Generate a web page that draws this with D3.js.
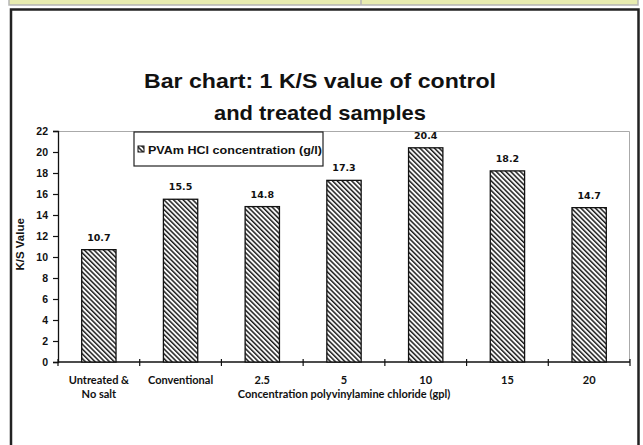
<!DOCTYPE html>
<html>
<head>
<meta charset="utf-8">
<script src="https://cdn.jsdelivr.net/npm/d3@7"></script>
<style>
  body { margin: 0; background: #fff; }
  svg { display: block; }
</style>
</head>
<body>
<div id="chart"></div>
<script>
// chart data
var categories = ["Untreated & No salt", "Conventional", "2.5", "5", "10", "15", "20"];
var values = [10.7, 15.5, 14.8, 17.3, 20.4, 18.2, 14.7];
var yTicks = [0, 2, 4, 6, 8, 10, 12, 14, 16, 18, 20, 22];
var seriesName = "PVAm HCl concentration (g/l)";

var W = 643, H = 445;
var margin = {top: 131, right: 13, bottom: 83, left: 58},
  width = W - margin.left - margin.right,
  height = H - margin.top - margin.bottom;

var svg = d3.select("#chart").append("svg")
  .attr("width", W)
  .attr("height", H);

// hatch pattern for bars
var defs = svg.append("defs");
var pat = defs.append("pattern")
  .attr("id", "hatch")
  .attr("patternUnits", "userSpaceOnUse")
  .attr("width", 3.4)
  .attr("height", 3.4)
  .attr("patternTransform", "rotate(45)");
pat.append("rect").attr("width", 3.4).attr("height", 3.4).attr("fill", "#fff");
pat.append("line")
  .attr("x1", 0).attr("x2", 3.4)
  .attr("y1", 1).attr("y2", 1)
  .attr("stroke", "#1a1a1a")
  .attr("stroke-width", 1.5);

// page decoration: yellow strip at top and frame
svg.append("rect")
  .attr("x", 9).attr("y", -2)
  .attr("width", 629).attr("height", 7)
  .attr("fill", "#e8ecb0")
  .attr("stroke", "#b5b5b5")
  .attr("stroke-width", 1.5);
svg.append("line")
  .attr("x1", 361).attr("x2", 361)
  .attr("y1", 0).attr("y2", 5)
  .attr("stroke", "#b5b5b5")
  .attr("stroke-width", 1.5);
svg.append("rect")
  .attr("x", 11).attr("y", 9.5)
  .attr("width", 627.5).attr("height", 450)
  .attr("fill", "none")
  .attr("stroke", "#222")
  .attr("stroke-width", 2.5);

// title (source text is a bit stretched sideways)
var title = svg.append("text")
  .attr("text-anchor", "middle")
  .attr("font-family", "Liberation Sans, Arial, sans-serif")
  .attr("font-weight", "bold")
  .attr("font-size", "21px")
  .attr("fill", "#111");
title.append("tspan").attr("x", 320).attr("y", 88)
  .attr("textLength", 352).attr("lengthAdjust", "spacingAndGlyphs")
  .text("Bar chart: 1 K/S value of control");
title.append("tspan").attr("x", 320).attr("y", 120)
  .attr("textLength", 212).attr("lengthAdjust", "spacingAndGlyphs")
  .text("and treated samples");

var g = svg.append("g")
  .attr("transform", "translate(" + margin.left + "," + margin.top + ")");

var x = d3.scaleBand()
  .domain(categories)
  .range([0, width])
  .paddingInner(0.58)
  .paddingOuter(0.29);

var xb = d3.scaleBand().domain(categories).range([0, width]);

var y = d3.scaleLinear()
  .domain([0, 22])
  .range([height, 0]);

// plot area border (top and right in light gray)
g.append("path")
  .attr("d", "M0,0.5H" + (width - 0.5) + "V" + height)
  .attr("fill", "none")
  .attr("stroke", "#aaa")
  .attr("stroke-width", 1);

// y axis
var yAxis = g.append("g")
  .call(d3.axisLeft(y).tickValues(yTicks).tickSize(5).tickPadding(5).tickFormat(d3.format("d")));
yAxis.select(".domain").attr("stroke", "#111").attr("stroke-width", 1.3);
yAxis.selectAll(".tick line").attr("stroke", "#111").attr("stroke-width", 1.2);
yAxis.selectAll("text")
  .attr("font-family", "Liberation Sans, Arial, sans-serif")
  .attr("font-weight", "bold")
  .attr("font-size", "10.5px")
  .attr("fill", "#111");

// x axis with ticks at band edges
var xAxisG = g.append("g").attr("transform", "translate(0," + height + ")");
xAxisG.append("line")
  .attr("x1", 0).attr("x2", width)
  .attr("stroke", "#111").attr("stroke-width", 1.3);
var edges = categories.map(function(c) { return xb(c); }).concat([width]);
xAxisG.selectAll("line.tk")
  .data(edges)
  .enter().append("line")
  .attr("class", "tk")
  .attr("x1", function(d) { return d; })
  .attr("x2", function(d) { return d; })
  .attr("y1", -3).attr("y2", 4)
  .attr("stroke", "#111").attr("stroke-width", 1.2);

var xl = xAxisG.selectAll("text.xl")
  .data(categories)
  .enter().append("text")
  .attr("class", "xl")
  .attr("text-anchor", "middle")
  .attr("font-family", "Lato, Open Sans, sans-serif")
  .attr("font-weight", "bold")
  .attr("font-size", "11px")
  .attr("fill", "#111");
xl.each(function(d) {
  var t = d3.select(this);
  var cx = xb(d) + xb.bandwidth() / 2;
  var lines = d == "Untreated & No salt" ? ["Untreated &", "No salt"] : [d];
  lines.forEach(function(s, i) {
    t.append("tspan").attr("x", cx).attr("y", 22 + i * 13.5).text(s);
  });
});

// x axis title
g.append("text")
  .attr("x", xb("5") + xb.bandwidth() / 2 + 0)
  .attr("y", height + 35.5)
  .attr("text-anchor", "middle")
  .attr("font-family", "Lato, Open Sans, sans-serif")
  .attr("font-weight", "bold")
  .attr("font-size", "11px")
  .attr("fill", "#111")
  .text("Concentration polyvinylamine chloride (gpl)");

// y axis title
g.append("text")
  .attr("transform", "translate(" + (-34) + "," + y(11.2) + ")rotate(-90)")
  .attr("text-anchor", "middle")
  .attr("font-family", "Liberation Sans, Arial, sans-serif")
  .attr("font-weight", "bold")
  .attr("font-size", "11.5px")
  .attr("fill", "#111")
  .text("K/S Value");

// bars
g.selectAll("rect.bar")
  .data(values)
  .enter().append("rect")
  .attr("class", "bar")
  .attr("x", function(d, i) { return x(categories[i]); })
  .attr("width", x.bandwidth())
  .attr("y", function(d) { return y(d); })
  .attr("height", function(d) { return height - y(d); })
  .attr("fill", "url(#hatch)")
  .attr("stroke", "#111")
  .attr("stroke-width", 1.3);

// value labels
g.selectAll("text.val")
  .data(values)
  .enter().append("text")
  .attr("class", "val")
  .attr("x", function(d, i) { return x(categories[i]) + x.bandwidth() / 2; })
  .attr("y", function(d) { return y(d) - 9; })
  .attr("text-anchor", "middle")
  .attr("font-family", "DejaVu Sans, Verdana, sans-serif")
  .attr("font-weight", "bold")
  .attr("font-size", "9.5px")
  .attr("fill", "#111")
  .text(function(d) { return d.toFixed(1); });

// legend
var leg = svg.append("g").attr("transform", "translate(134,132)");
leg.append("rect")
  .attr("width", 189).attr("height", 34)
  .attr("fill", "#fff")
  .attr("stroke", "#222")
  .attr("stroke-width", 1.2);
leg.append("rect")
  .attr("x", 4).attr("y", 14)
  .attr("width", 6).attr("height", 6)
  .attr("fill", "url(#hatch)")
  .attr("stroke", "#111")
  .attr("stroke-width", 1);
leg.append("text")
  .attr("x", 14).attr("y", 21.5)
  .attr("textLength", 174).attr("lengthAdjust", "spacingAndGlyphs")
  .attr("font-family", "Liberation Sans, Arial, sans-serif")
  .attr("font-weight", "bold")
  .attr("font-size", "11px")
  .attr("fill", "#111")
  .text(seriesName);
</script>
</body>
</html>
